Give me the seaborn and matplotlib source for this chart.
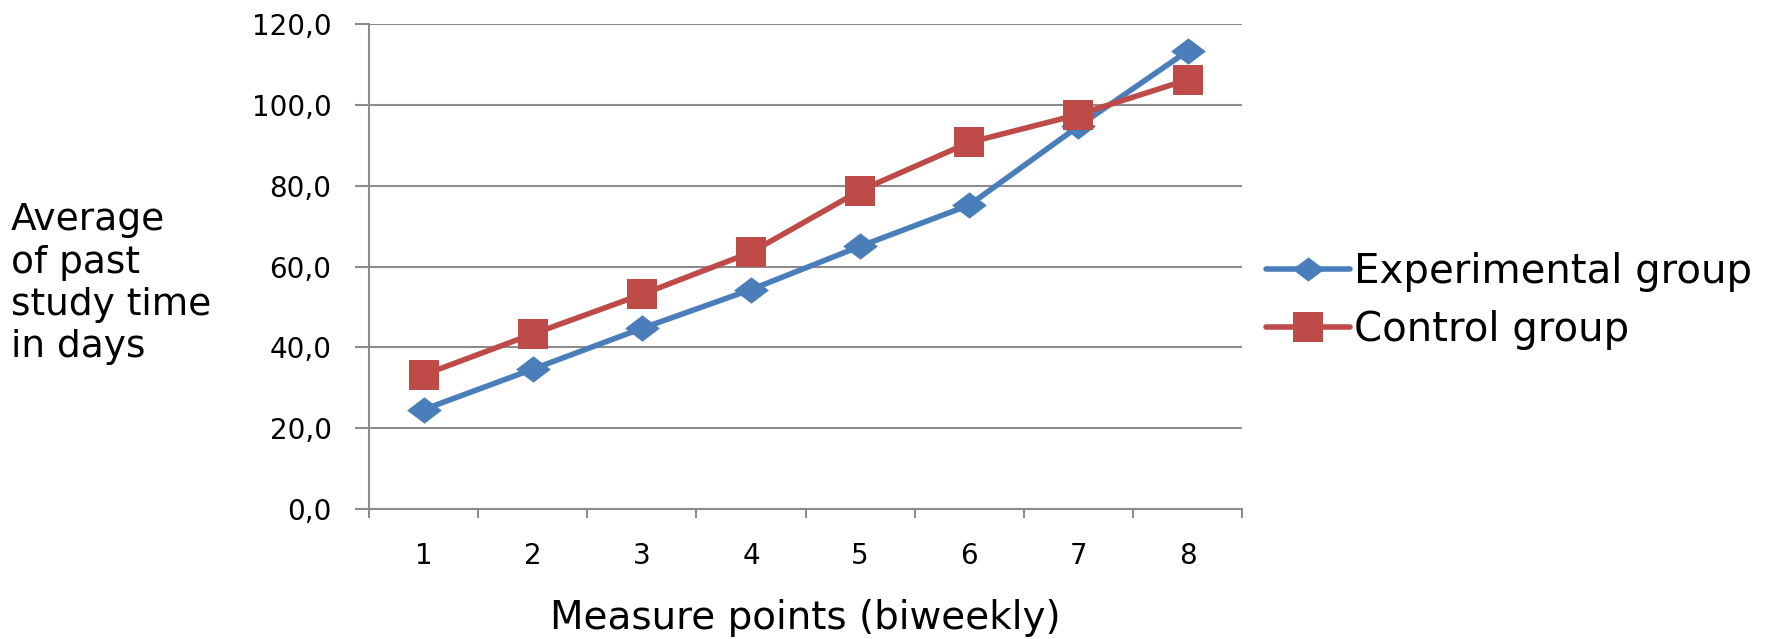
import pandas as pd
import matplotlib.pyplot as plt
import seaborn as sns
from matplotlib.ticker import FuncFormatter, MultipleLocator, FixedLocator

# values
measure_points = [1, 2, 3, 4, 5, 6, 7, 8]
experimental = [24.6, 34.6, 44.7, 54.3, 65.0, 75.2, 94.7, 113.3]
control = [33.2, 43.3, 53.1, 63.5, 78.8, 90.7, 97.6, 106.2]
groups = ['Experimental group', 'Control group']
colors = {groups[0]: '#4A7EBB', groups[1]: '#BE4B48'}

df = pd.concat([
    pd.DataFrame({'point': measure_points, 'value': experimental, 'group': groups[0]}),
    pd.DataFrame({'point': measure_points, 'value': control, 'group': groups[1]}),
])

sns.set_style('white')
plt.rcParams['font.family'] = ['DejaVu Sans']
plt.rcParams['text.color'] = 'black'
plt.rcParams['xtick.labelcolor'] = 'black'
plt.rcParams['ytick.labelcolor'] = 'black'
plt.rcParams['axes.labelcolor'] = 'black'

# flat diamond like the office chart marker
diamond = [(-1, 0), (0, 0.76), (1, 0), (0, -0.76), (-1, 0)]

fig = plt.figure(figsize=(17.81, 6.39), dpi=100)
ax = fig.add_axes([0.2072, 0.2034, 0.4902, 0.759])

sns.lineplot(
    data=df, x='point', y='value', hue='group', style='group',
    palette=colors,
    markers={groups[0]: diamond, groups[1]: 's'},
    dashes=False, linewidth=4, markeredgewidth=0,
    ax=ax, legend=False,
)
for line, ms in zip(ax.lines, [25, 22]):
    line.set_markersize(ms)

ax.set_xlim(0.5, 8.5)
ax.set_ylim(0, 120)
ax.yaxis.set_major_locator(MultipleLocator(20))
ax.yaxis.set_major_formatter(FuncFormatter(lambda v, p: f'{v:.1f}'.replace('.', ',')))
ax.xaxis.set_major_locator(FixedLocator(measure_points))
ax.xaxis.set_minor_locator(FixedLocator([i + 0.5 for i in range(0, 9)]))

ax.grid(axis='y', color='#8c8c8c', linewidth=1.5)
ax.set_axisbelow(True)
for side in ['top', 'right']:
    ax.spines[side].set_visible(False)
for side in ['left', 'bottom']:
    ax.spines[side].set_color('#8c8c8c')
    ax.spines[side].set_linewidth(1.5)

ax.tick_params(axis='y', which='major', length=10, width=1.5, color='#8c8c8c',
               labelsize=20, pad=17, left=True)
ax.tick_params(axis='x', which='major', length=0, labelsize=20, pad=24)
ax.tick_params(axis='x', which='minor', length=6.5, width=1.5, color='#8c8c8c', bottom=True)

ax.set_xlabel('Measure points (biweekly)', fontsize=28)
ax.xaxis.set_label_coords(0.5, -0.185)
ax.set_ylabel('')
fig.text(0.006, 0.556, 'Average\nof past\nstudy time\nin days', fontsize=27,
         ha='left', va='center', linespacing=1.22)

handles = [
    plt.Line2D([], [], color=colors[groups[0]], lw=4, marker=diamond, ms=23, mew=0),
    plt.Line2D([], [], color=colors[groups[1]], lw=4, marker='s', ms=22, mew=0),
]
fig.legend(handles, groups, loc='center left', bbox_to_anchor=(0.711, 0.529),
           frameon=False, fontsize=29, handlelength=2.07, handletextpad=0.12,
           labelspacing=0.45, borderpad=0, borderaxespad=0)

fig.savefig('out.png', dpi=100)
plt.close(fig)
